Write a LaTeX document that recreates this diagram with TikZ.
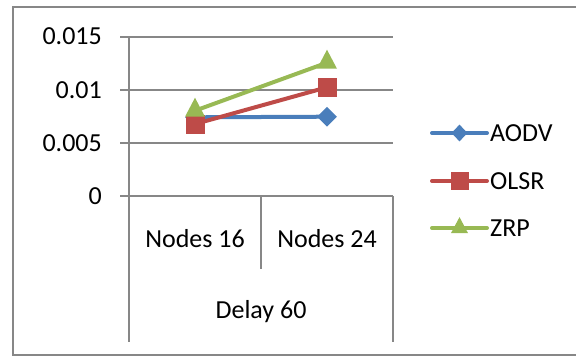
\documentclass[tikz,border=0pt]{standalone}
\usepackage{fontspec}
\setmainfont{Carlito}
\usetikzlibrary{shapes.geometric}
\definecolor{gridc}{HTML}{878787}
\definecolor{sblue}{HTML}{4A7EBB}
\definecolor{sred}{HTML}{BE4B48}
\definecolor{sgreen}{HTML}{98B954}
\tikzset{
  gridline/.style={draw=gridc, line width=1.6pt},
  framebox/.style={draw=gridc, line width=2pt},
  lbl/.style={font=\fontsize{26}{31}\selectfont, inner sep=0pt},
  sline/.style={line width=4pt},
  legline/.style={line width=4pt, line cap=round},
  dmark/.style={diamond, draw=none, inner sep=0pt, minimum width=20pt, minimum height=20pt, fill=#1},
  smark/.style={rectangle, draw=none, inner sep=0pt, minimum size=19pt, fill=#1},
  tmark/.style={isosceles triangle, shape border rotate=90, isosceles triangle stretches, draw=none, minimum width=20pt, minimum height=19pt, inner sep=0pt, fill=#1},
}
\begin{document}
\begin{tikzpicture}[x=1pt,y=-1pt]
\useasboundingbox (0,0) rectangle (576,356);
% outer frame
\draw[framebox] (13,7) rectangle (590,355);
% gridlines
\foreach \yy in {37,90,143,196} \draw[gridline] (120,\yy) -- (393,\yy);
% axis and category separators
\draw[gridline] (129,37) -- (129,342);
\draw[gridline] (261,196) -- (261,269);
\draw[gridline] (393,196) -- (393,342);
% y labels
\node[lbl, anchor=base east] (y3) at (102,45) {0.015};
\node[lbl, anchor=base east] (y2) at (102,98) {0.01};
\node[lbl, anchor=base east] (y1) at (102,151) {0.005};
\node[lbl, anchor=base east] (y0) at (102,204) {0};
% category labels
\node[lbl, anchor=base] (n16) at (195,247) {Nodes 16};
\node[lbl, anchor=base] (n24) at (327,247) {Nodes 24};
\node[lbl, anchor=base] (d60) at (261,318) {Delay 60};
% data coordinates
\coordinate (a1) at (195,117.3);
\coordinate (a2) at (327,116.7);
\coordinate (o1) at (195,124);
\coordinate (o2) at (327,87.3);
\coordinate (z1) at (195,110.7);
\coordinate (z2) at (327,62.7);
% AODV
\draw[sline, sblue] (a1) -- (a2);
\node[dmark=sblue] (am1) at (a1) {};
\node[dmark=sblue] (am2) at (a2) {};
% OLSR
\draw[sline, sred] (o1) -- (o2);
\node[smark=sred] (om1) at (o1) {};
\node[smark=sred] (om2) at (o2) {};
% ZRP
\draw[sline, sgreen] (z1) -- (z2);
\node[tmark=sgreen] (zm1) at (z1) {};
\node[tmark=sgreen] (zm2) at (z2) {};
% legend
\coordinate (la1) at (432,133); \coordinate (la2) at (487,133);
\coordinate (lo1) at (432,181); \coordinate (lo2) at (487,181);
\coordinate (lz1) at (432,228); \coordinate (lz2) at (487,228);
\draw[legline, sblue] (la1) -- (la2);
\node[dmark=sblue, minimum width=16pt, minimum height=17pt] (lam) at (459.5,133) {};
\draw[legline, sred] (lo1) -- (lo2);
\node[smark=sred, minimum size=18pt] (lom) at (459.5,181) {};
\draw[legline, sgreen] (lz1) -- (lz2);
\node[tmark=sgreen, minimum width=17pt, minimum height=16pt] (lzm) at (459.5,228) {};
\node[lbl, anchor=base west] (ta) at (490,141) {AODV};
\node[lbl, anchor=base west] (to) at (490,189) {OLSR};
\node[lbl, anchor=base west] (tz) at (490,236) {ZRP};
\end{tikzpicture}
\end{document}
